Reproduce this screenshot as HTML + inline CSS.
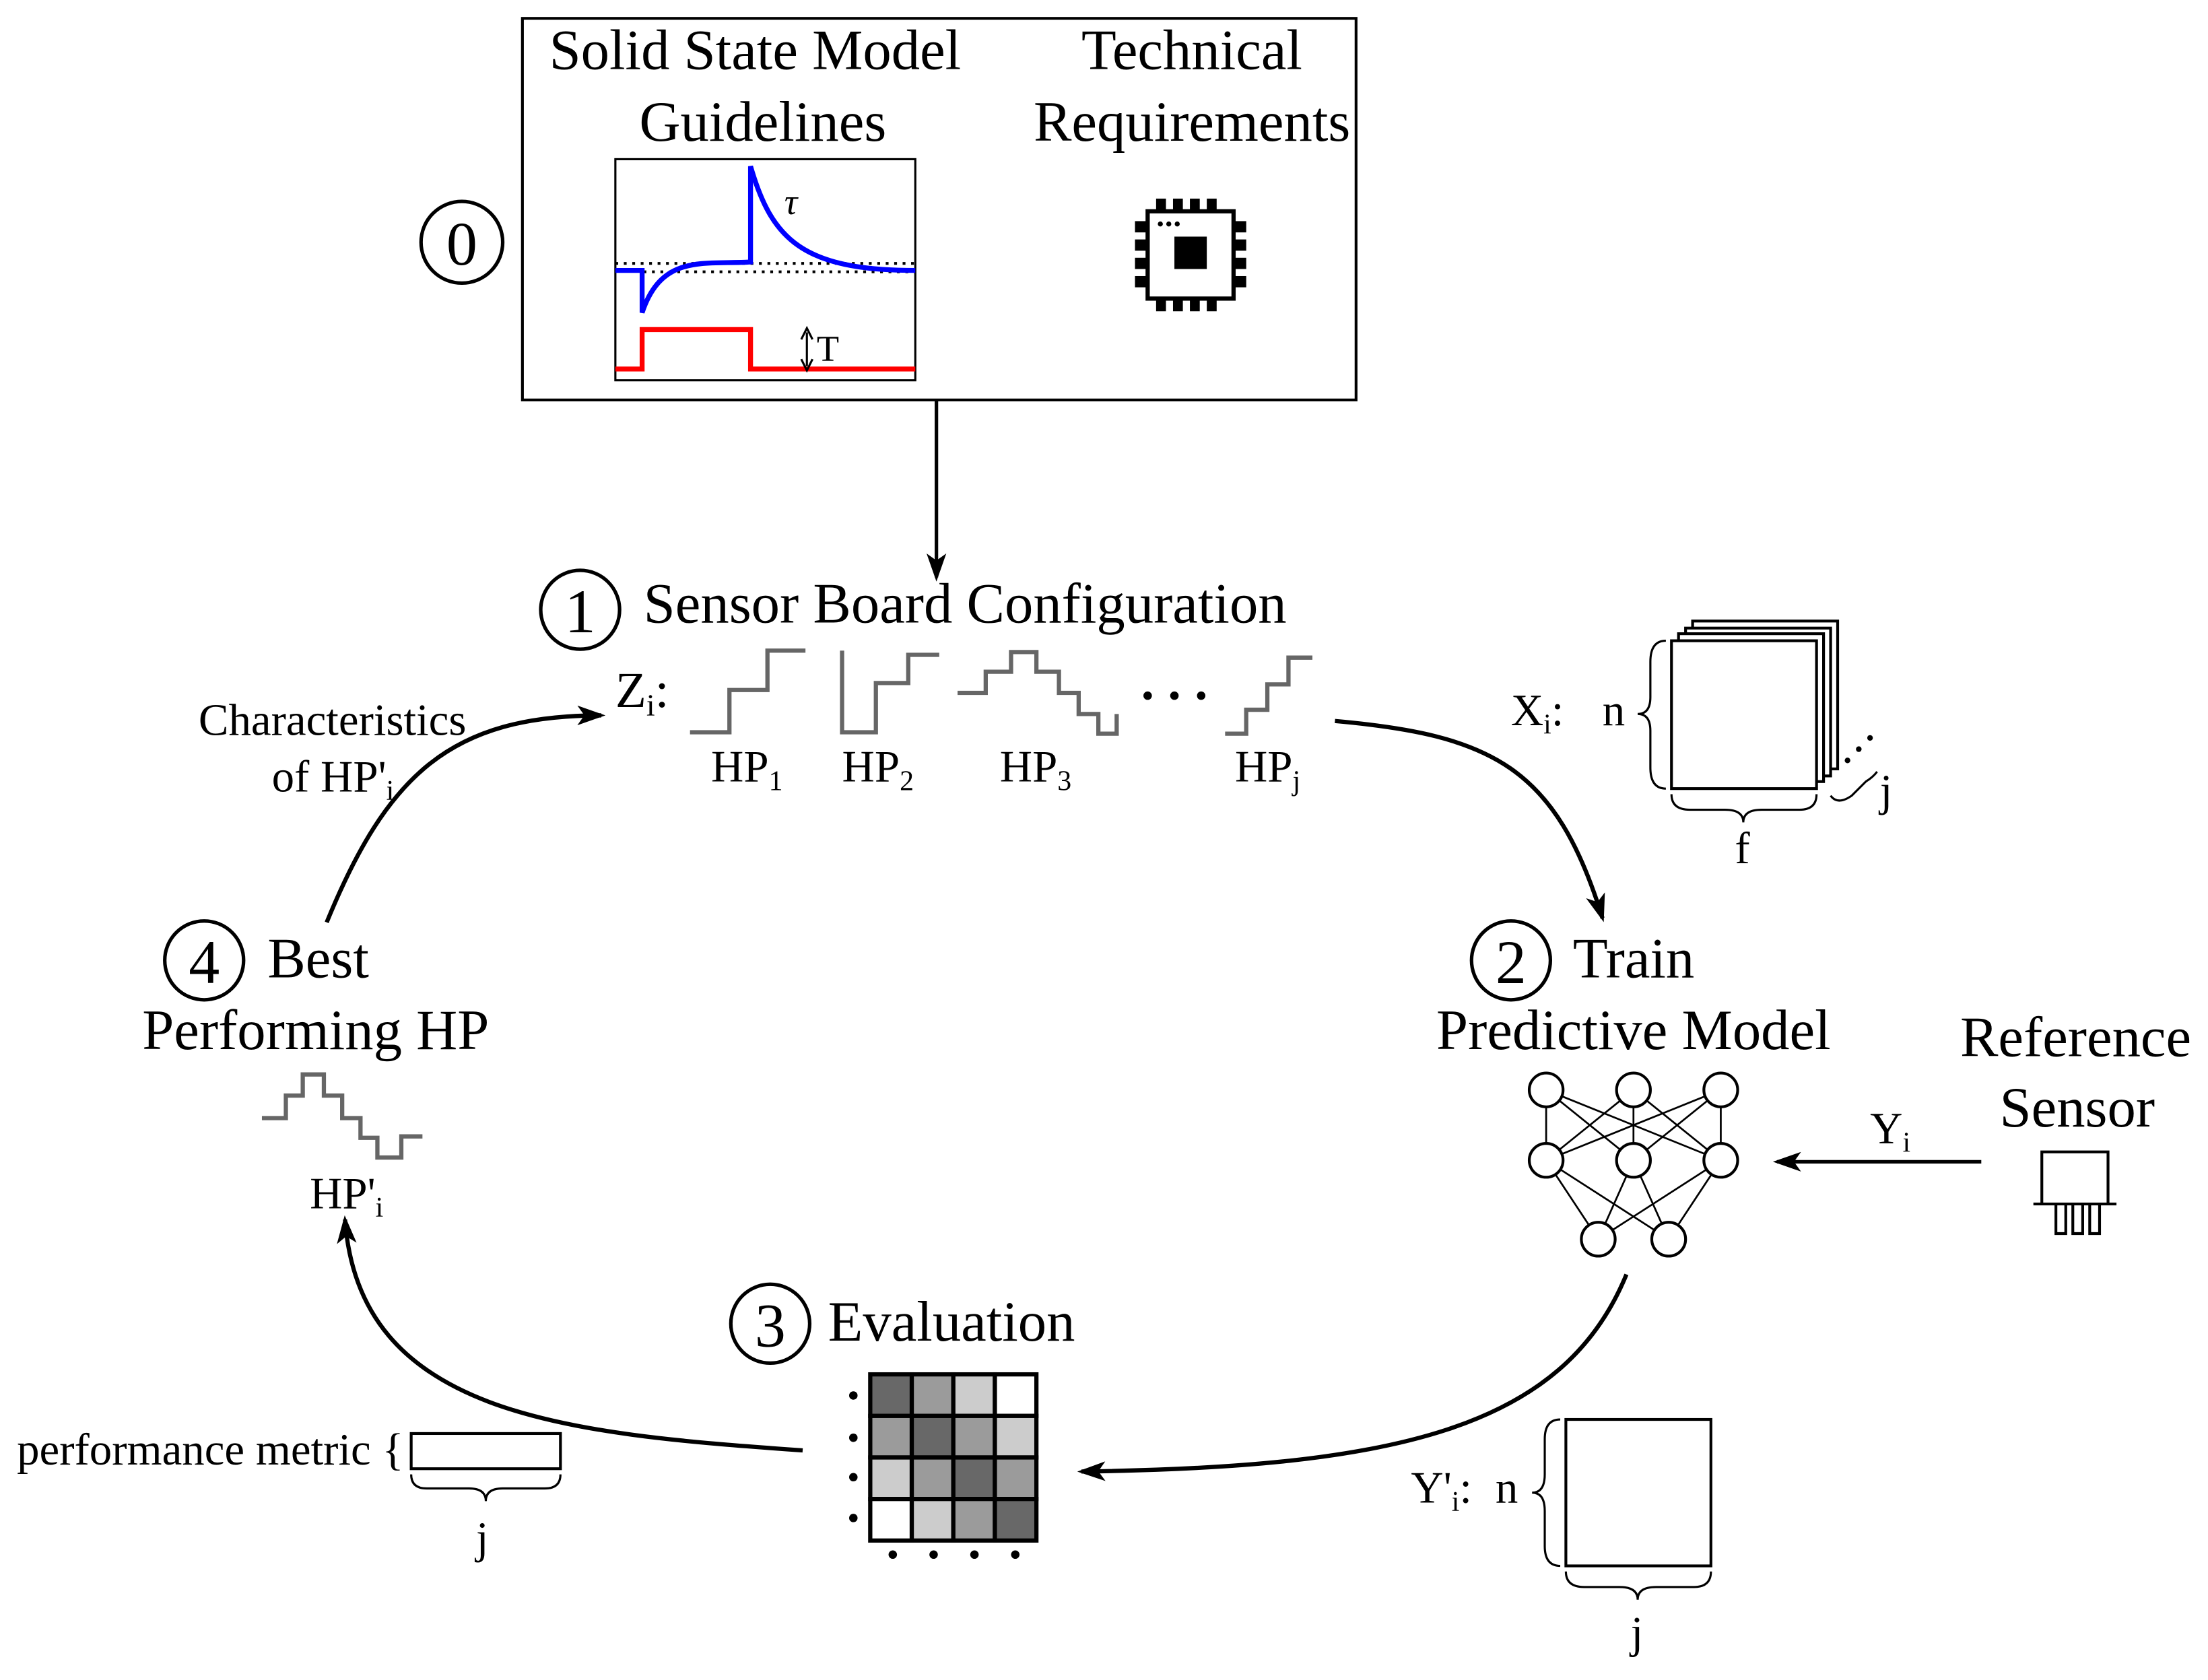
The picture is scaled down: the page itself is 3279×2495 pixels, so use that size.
<!DOCTYPE html>
<html><head><meta charset="utf-8"><style>html,body{margin:0;padding:0;background:#fff}svg{display:block}text{font-family:"Liberation Serif",serif;fill:#000}</style></head>
<body>
<svg width="3279" height="2495" viewBox="0 0 1568 1193" xmlns="http://www.w3.org/2000/svg">
<defs>
<marker id="ah" viewBox="0 0 20 14" refX="17" refY="7" markerWidth="20" markerHeight="14" orient="auto" markerUnits="userSpaceOnUse">
<path d="M0,0 L20,7 L0,14 L5,7 Z" fill="#000"/>
</marker>
</defs>
<rect width="1568" height="1193" fill="#fff"/>
<!-- top box -->
<rect x="371" y="13" width="592" height="271" fill="none" stroke="#000" stroke-width="2"/>
<g font-size="40.5">
<text x="390" y="49">Solid State Model</text>
<text x="454" y="100">Guidelines</text>
<text x="768" y="49">Technical</text>
<text x="734" y="100">Requirements</text>
</g>
<rect x="437" y="113" width="213" height="157" fill="none" stroke="#000" stroke-width="1.5"/>
<line x1="437" y1="187" x2="650" y2="187" stroke="#000" stroke-width="2" stroke-dasharray="2,4"/>
<line x1="457" y1="193" x2="650" y2="193" stroke="#000" stroke-width="2" stroke-dasharray="2,4"/>
<path d="M437,192 H456 V222 C470,180 500,188 533,186 V118 C548,170 570,192 650,192" fill="none" stroke="#0000ff" stroke-width="3.5"/>
<path d="M437,262 H456 V234 H533 V262 H650" fill="none" stroke="#ff0000" stroke-width="3.5"/>
<line x1="573" y1="236" x2="573" y2="260" stroke="#000" stroke-width="1.5"/>
<path d="M569,241 L573,233 L577,241 M569,255 L573,263 L577,255" fill="none" stroke="#000" stroke-width="1.5"/>
<text x="580" y="256" font-size="26">T</text>
<text x="557" y="152" font-size="26" font-style="italic">τ</text>
<!-- chip -->
<g>
<rect x="815" y="150" width="61" height="62" fill="#fff" stroke="#000" stroke-width="3"/>
<g fill="#000">
<rect x="821" y="141" width="7" height="9"/><rect x="833" y="141" width="7" height="9"/><rect x="845" y="141" width="7" height="9"/><rect x="857" y="141" width="7" height="9"/>
<rect x="821" y="212" width="7" height="9"/><rect x="833" y="212" width="7" height="9"/><rect x="845" y="212" width="7" height="9"/><rect x="857" y="212" width="7" height="9"/>
<rect x="806" y="157" width="9" height="8"/><rect x="806" y="170" width="9" height="8"/><rect x="806" y="183" width="9" height="8"/><rect x="806" y="196" width="9" height="8"/>
<rect x="876" y="157" width="9" height="8"/><rect x="876" y="170" width="9" height="8"/><rect x="876" y="183" width="9" height="8"/><rect x="876" y="196" width="9" height="8"/>
<rect x="834" y="168" width="23" height="23"/>
<circle cx="824" cy="159" r="1.8"/><circle cx="830" cy="159" r="1.8"/><circle cx="836" cy="159" r="1.8"/>
</g>
</g>
<!-- circle labels -->
<g fill="none" stroke="#000" stroke-width="2.5">
<circle cx="328" cy="172" r="29"/>
<circle cx="412" cy="433" r="28"/>
<circle cx="145" cy="682" r="28"/>
<circle cx="1073" cy="682" r="28"/>
<circle cx="547" cy="940" r="28"/>
</g>
<g font-size="44" text-anchor="middle">
<text x="328" y="188">0</text>
<text x="412" y="449">1</text>
<text x="145" y="698">4</text>
<text x="1073" y="698">2</text>
<text x="547" y="956">3</text>
</g>
<line x1="665" y1="284" x2="665" y2="410" stroke="#000" stroke-width="2.5" marker-end="url(#ah)"/>
<g font-size="40.5">
<text x="457" y="442">Sensor Board Configuration</text>
<text x="190" y="694">Best</text>
<text x="101" y="745">Performing HP</text>
<text x="1117" y="694">Train</text>
<text x="1020" y="745">Predictive Model</text>
<text x="1392" y="750">Reference</text>
<text x="1420" y="800">Sensor</text>
<text x="588" y="952">Evaluation</text>
</g>
<!-- Z_i -->
<text x="437" y="502" font-size="36">Z<tspan font-size="22" dy="6">i</tspan><tspan dy="-6">:</tspan></text>
<g fill="none" stroke="#666" stroke-width="3">
<path d="M490,520 H518 V490 H545 V462 H572"/>
<path d="M598,462 V520 H622 V485 H645 V465 H667"/>
<path d="M680,492 H700 V477 H718 V463 H736 V477 H752 V492 H766 V507 H780 V521 H793 V507"/>
<path d="M870,521 H885 V504 H900 V486 H915 V467 H932"/>
<path d="M186,794 H203 V778 H215 V763 H230 V778 H243 V794 H256 V808 H268 V822 H285 V807 H300"/>
</g>
<g fill="#000"><circle cx="815" cy="494" r="3"/><circle cx="834" cy="494" r="3"/><circle cx="853" cy="494" r="3"/></g>
<g font-size="32">
<text x="505" y="555">HP<tspan font-size="20" dy="6">1</tspan></text>
<text x="598" y="555">HP<tspan font-size="20" dy="6">2</tspan></text>
<text x="710" y="555">HP<tspan font-size="20" dy="6">3</tspan></text>
<text x="877" y="555">HP<tspan font-size="20" dy="6">j</tspan></text>
<text x="141" y="522">Characteristics</text>
<text x="193" y="562">of HP'<tspan font-size="20" dy="6">i</tspan></text>
<text x="220" y="858">HP'<tspan font-size="20" dy="6">i</tspan></text>
<text x="1073" y="515">X<tspan font-size="20" dy="6">i</tspan><tspan dy="-6">:</tspan></text>
<text x="1138" y="515">n</text>
<text x="1232" y="613">f</text>
<text x="1335" y="572">j</text>
<text x="1002" y="1067">Y'<tspan font-size="20" dy="6">i</tspan><tspan dy="-6">:</tspan></text>
<text x="1062" y="1067">n</text>
<text x="1158" y="1170">j</text>
<text x="1328" y="812">Y<tspan font-size="20" dy="6">i</tspan></text>
<text x="12" y="1040">performance metric {</text>
<text x="338" y="1103">j</text>
</g>
<!-- X stack -->
<g fill="#fff" stroke="#000" stroke-width="2">
<rect x="1202" y="441" width="103" height="105"/>
<rect x="1197" y="446" width="103" height="105"/>
<rect x="1192" y="450" width="103" height="105"/>
<rect x="1187" y="455" width="103" height="105"/>
<rect x="1112" y="1008" width="103" height="104"/>
<rect x="292" y="1018" width="106" height="25"/>
</g>
<g fill="#000"><circle cx="1312" cy="540" r="2"/><circle cx="1320" cy="532" r="2"/><circle cx="1328" cy="524" r="2"/></g>
<g fill="none" stroke="#000" stroke-width="1.5">
<path d="M1183,455 Q1172,455 1172,470 V495 Q1172,507 1163,507 Q1172,507 1172,519 V545 Q1172,560 1183,560"/>
<path d="M1187,564 Q1187,575 1200,575 H1225 Q1238,575 1238,584 Q1238,575 1251,575 H1278 Q1290,575 1290,564"/>
<path d="M1300,565 Q1305,572 1315,565 L1325,555 Q1330,552 1333,548"/>
<path d="M1108,1008 Q1097,1008 1097,1022 V1047 Q1097,1060 1088,1060 Q1097,1060 1097,1073 V1098 Q1097,1112 1108,1112"/>
<path d="M1112,1116 Q1112,1127 1125,1127 H1150 Q1163,1127 1163,1136 Q1163,1127 1176,1127 H1203 Q1215,1127 1215,1116"/>
<path d="M292,1047 Q292,1057 303,1057 H333 Q345,1057 345,1066 Q345,1057 357,1057 H387 Q398,1057 398,1047"/>
</g>
<!-- neural net -->
<g stroke="#000" stroke-width="1.3">
<line x1="1098" y1="774" x2="1098" y2="824"/><line x1="1098" y1="774" x2="1160" y2="824"/><line x1="1098" y1="774" x2="1222" y2="824"/>
<line x1="1160" y1="774" x2="1098" y2="824"/><line x1="1160" y1="774" x2="1160" y2="824"/><line x1="1160" y1="774" x2="1222" y2="824"/>
<line x1="1222" y1="774" x2="1098" y2="824"/><line x1="1222" y1="774" x2="1160" y2="824"/><line x1="1222" y1="774" x2="1222" y2="824"/>
<line x1="1098" y1="824" x2="1135" y2="880"/><line x1="1098" y1="824" x2="1185" y2="880"/>
<line x1="1160" y1="824" x2="1135" y2="880"/><line x1="1160" y1="824" x2="1185" y2="880"/>
<line x1="1222" y1="824" x2="1135" y2="880"/><line x1="1222" y1="824" x2="1185" y2="880"/>
</g>
<g fill="#fff" stroke="#000" stroke-width="2">
<circle cx="1098" cy="774" r="12"/><circle cx="1160" cy="774" r="12"/><circle cx="1222" cy="774" r="12"/>
<circle cx="1098" cy="824" r="12"/><circle cx="1160" cy="824" r="12"/><circle cx="1222" cy="824" r="12"/>
<circle cx="1135" cy="880" r="12"/><circle cx="1185" cy="880" r="12"/>
</g>
<!-- sensor -->
<g fill="none" stroke="#000" stroke-width="2">
<path d="M1450,855 V818 H1497 V855 M1444,855 H1503"/>
<path d="M1460,855 V876 H1467 V855 M1472,855 V876 H1479 V855 M1484,855 V876 H1491 V855"/>
</g>
<line x1="1407" y1="825" x2="1262" y2="825" stroke="#000" stroke-width="2.5" marker-end="url(#ah)"/>
<!-- matrix -->
<g stroke="#000" stroke-width="3">
<rect x="618" y="976" width="29.5" height="29.5" fill="#686868"/><rect x="647.5" y="976" width="29.5" height="29.5" fill="#9b9b9b"/><rect x="677" y="976" width="29.5" height="29.5" fill="#ccc"/><rect x="706.5" y="976" width="29.5" height="29.5" fill="#fff"/>
<rect x="618" y="1005.5" width="29.5" height="29.5" fill="#9b9b9b"/><rect x="647.5" y="1005.5" width="29.5" height="29.5" fill="#686868"/><rect x="677" y="1005.5" width="29.5" height="29.5" fill="#9b9b9b"/><rect x="706.5" y="1005.5" width="29.5" height="29.5" fill="#ccc"/>
<rect x="618" y="1035" width="29.5" height="29.5" fill="#ccc"/><rect x="647.5" y="1035" width="29.5" height="29.5" fill="#9b9b9b"/><rect x="677" y="1035" width="29.5" height="29.5" fill="#686868"/><rect x="706.5" y="1035" width="29.5" height="29.5" fill="#9b9b9b"/>
<rect x="618" y="1064.5" width="29.5" height="29.5" fill="#fff"/><rect x="647.5" y="1064.5" width="29.5" height="29.5" fill="#ccc"/><rect x="677" y="1064.5" width="29.5" height="29.5" fill="#9b9b9b"/><rect x="706.5" y="1064.5" width="29.5" height="29.5" fill="#686868"/>
</g>
<g fill="#000">
<circle cx="606" cy="991" r="3"/><circle cx="606" cy="1021" r="3"/><circle cx="606" cy="1049" r="3"/><circle cx="606" cy="1078" r="3"/>
<circle cx="634" cy="1104" r="3"/><circle cx="663" cy="1104" r="3"/><circle cx="692" cy="1104" r="3"/><circle cx="721" cy="1104" r="3"/>
</g>
<!-- curved arrows -->
<g fill="none" stroke="#000" stroke-width="3">
<path d="M232,655 C275,550 320,508 427,508" marker-end="url(#ah)"/>
<path d="M948,512 C1060,522 1105,545 1138,652" marker-end="url(#ah)"/>
<path d="M1155,905 C1110,1015 990,1042 768,1045" marker-end="url(#ah)"/>
<path d="M570,1030 C400,1018 255,1005 245,866" marker-end="url(#ah)"/>
</g>
</svg>
</body></html>
